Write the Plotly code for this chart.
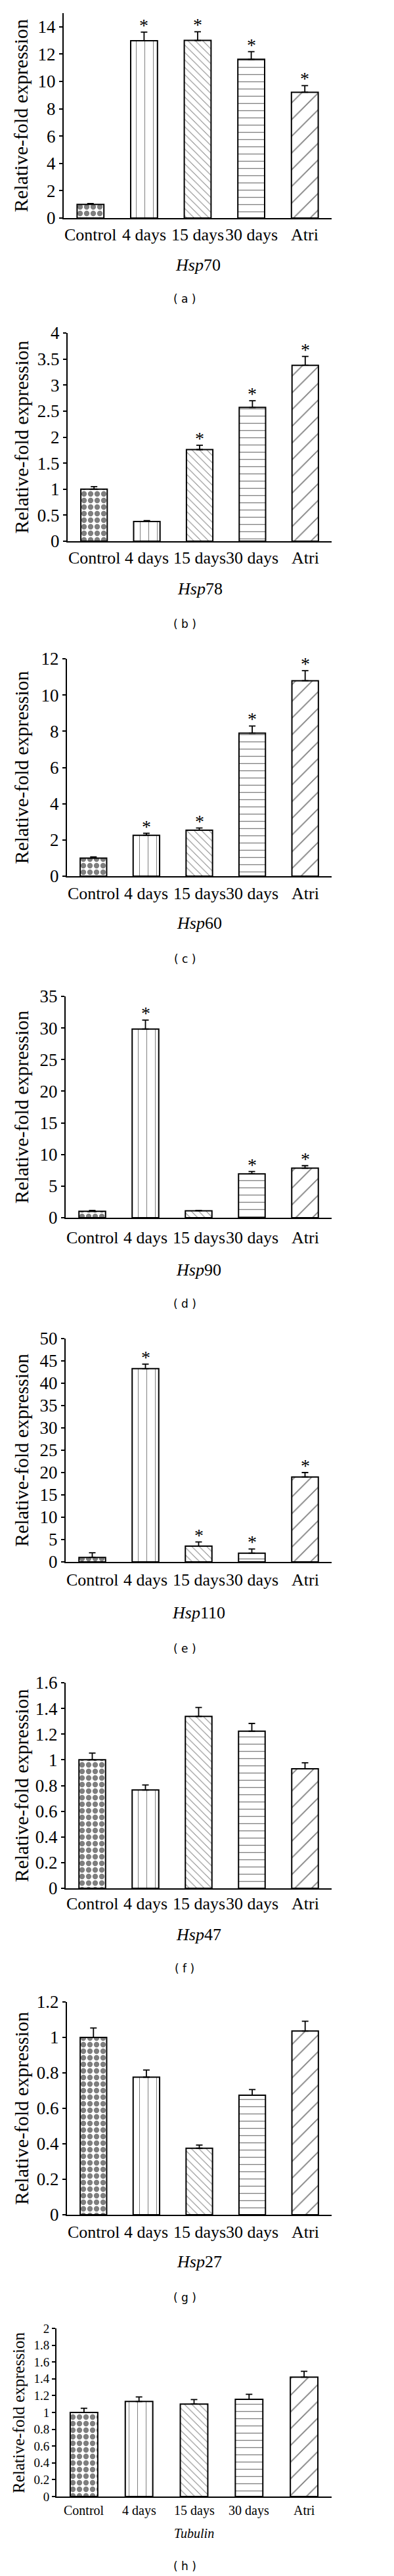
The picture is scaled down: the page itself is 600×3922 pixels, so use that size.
import plotly.graph_objects as go

# page is 600 x 3922; the html body adds an 8 px margin, so the figure is shifted by it
PAGE_PAD = 8
W, H = 600 - 2 * PAGE_PAD, 3922 - PAGE_PAD

categories = ["Control", "4 days", "15 days", "30 days", "Atri"]

genes = ["Hsp70", "Hsp78", "Hsp60", "Hsp90", "Hsp110", "Hsp47", "Hsp27", "Tubulin"]
letters = ["a", "b", "c", "d", "e", "f", "g", "h"]

hsp70 = [1.0, 12.98, 13.0, 11.62, 9.21]
hsp70_err = [0.06, 0.63, 0.64, 0.56, 0.48]
hsp70_star = [0, 1, 1, 1, 1]

hsp78 = [1.0, 0.38, 1.76, 2.57, 3.38]
hsp78_err = [0.05, 0.015, 0.085, 0.13, 0.17]
hsp78_star = [0, 0, 1, 1, 1]

hsp60 = [1.0, 2.26, 2.54, 7.89, 10.79]
hsp60_err = [0.06, 0.11, 0.12, 0.40, 0.55]
hsp60_star = [0, 1, 1, 1, 1]

hsp90 = [1.0, 29.84, 1.1, 6.94, 7.83]
hsp90_err = [0.15, 1.4, 0.05, 0.37, 0.40]
hsp90_star = [0, 1, 0, 1, 1]

hsp110 = [1.0, 43.26, 3.53, 1.96, 19.02]
hsp110_err = [1.05, 1.03, 0.93, 0.92, 0.98]
hsp110_star = [0, 1, 1, 1, 1]

hsp47 = [1.0, 0.765, 1.338, 1.223, 0.93]
hsp47_err = [0.052, 0.039, 0.07, 0.06, 0.047]
hsp47_star = [0, 0, 0, 0, 0]

hsp27 = [1.0, 0.776, 0.375, 0.674, 1.036]
hsp27_err = [0.053, 0.04, 0.018, 0.032, 0.055]
hsp27_star = [0, 0, 0, 0, 0]

tubulin = [1.0, 1.13, 1.10, 1.156, 1.42]
tubulin_err = [0.05, 0.055, 0.054, 0.06, 0.07]
tubulin_star = [0, 0, 0, 0, 0]

series = [hsp70, hsp78, hsp60, hsp90, hsp110, hsp47, hsp27, tubulin]
errors = [hsp70_err, hsp78_err, hsp60_err, hsp90_err, hsp110_err, hsp47_err, hsp27_err, tubulin_err]
stars = [hsp70_star, hsp78_star, hsp60_star, hsp90_star, hsp110_star, hsp47_star, hsp27_star, tubulin_star]

y_max = [15, 4, 12, 35, 50, 1.6, 1.2, 2]
y_step = [2, 0.5, 2, 5, 5, 0.2, 0.2, 0.2]

# page-pixel layout of each panel: y-axis x, plot top, zero line, text rows
ax_left = [97, 103, 102, 100, 100, 100, 102, 86]
ax_right = 505
plot_top = [20, 507, 1003, 1517, 2038, 2562, 3048, 3545]
plot_zero = [332, 824, 1334, 1854, 2378, 2875, 3372, 3801]
label_y = [357, 850, 1360, 1885, 2405, 2898, 3398, 3822]
gene_y = [403, 897, 1406, 1933, 2455, 2945, 3443, 3857]
letter_y = [455, 950, 1460, 1985, 2510, 2997, 3498, 3907]

# bar fill patterns, one per group
pat_shape = [".", "|", "\\", "-", "/"]
pat_size = [10, 13, 8, 11, 18]
pat_solid = [0.55, 0.08, 0.12, 0.12, 0.1]

SERIF = "Liberation Serif, Times New Roman, serif"

fig = go.Figure()
annotations = []

def px(x):
    return (x - PAGE_PAD) / W

def py(y):
    return 1 - (y - PAGE_PAD) / H

for i in range(8):
    n = "" if i == 0 else str(i + 1)
    small = i == 7
    tick_size = 19 if small else 27
    lab_size = 20 if small else 26
    title_size = 25 if small else 30

    fig.add_trace(go.Bar(
        x=categories, y=series[i],
        xaxis="x" + n, yaxis="y" + n,
        width=0.5,
        marker=dict(
            color="white",
            line=dict(color="black", width=2),
            pattern=dict(shape=pat_shape, size=pat_size, solidity=pat_solid,
                         fgcolor="black", bgcolor="white", fillmode="overlay"),
        ),
        error_y=dict(type="data", symmetric=False, array=errors[i],
                     arrayminus=[0] * 5, color="black", thickness=1.8, width=5),
        showlegend=False,
    ))

    for c, v, e, s in zip(categories, series[i], errors[i], stars[i]):
        if s:
            annotations.append(dict(
                x=c, y=v + e, xref="x" + n, yref="y" + n,
                text="*", showarrow=False, xanchor="center", yanchor="bottom", yshift=-7,
                font=dict(family=SERIF, size=28, color="#000000"),
            ))

    # category names under the axis
    for c in categories:
        annotations.append(dict(
            x=c, y=py(label_y[i]), xref="x" + n, yref="paper",
            text=c, showarrow=False, xanchor="center", yanchor="middle",
            font=dict(family=SERIF, size=lab_size, color="black"),
        ))

    fig.update_layout({
        "xaxis" + n: dict(
            domain=[px(ax_left[i]), px(ax_right)],
            anchor="y" + n, range=[-0.5, 4.5], automargin=False,
            showline=True, linecolor="black", linewidth=2,
            ticks="", showgrid=False, zeroline=False, showticklabels=False,
        ),
        "yaxis" + n: dict(
            domain=[py(plot_zero[i]), py(plot_top[i])],
            anchor="x" + n, range=[0, y_max[i]], automargin=False,
            tick0=0, dtick=y_step[i],
            showline=True, linecolor="black", linewidth=2,
            ticks="outside", ticklen=5, tickwidth=2, tickcolor="black",
            showgrid=False, zeroline=False,
            tickfont=dict(family=SERIF, size=tick_size, color="black"),
        ),
    })

    mid_y = (plot_top[i] + plot_zero[i]) / 2
    annotations.append(dict(
        x=px(28 if small else 32), y=py(mid_y), xref="paper", yref="paper",
        xanchor="center", yanchor="middle",
        text="Relative-fold expression", textangle=-90, showarrow=False,
        font=dict(family=SERIF, size=title_size, color="black"),
    ))
    gene = genes[i]
    gene_text = "<i>Tubulin</i>" if gene == "Tubulin" else "<i>Hsp</i>" + gene[3:]
    annotations.append(dict(
        x=px((ax_left[i] + ax_right) / 2), y=py(gene_y[i]), xref="paper", yref="paper",
        xanchor="center", yanchor="middle",
        text=gene_text, showarrow=False,
        font=dict(family=SERIF, size=lab_size, color="black"),
    ))
    annotations.append(dict(
        x=px(281), y=py(letter_y[i]), xref="paper", yref="paper",
        xanchor="center", yanchor="middle",
        text="( " + letters[i] + " )", showarrow=False,
        font=dict(family="DejaVu Sans, sans-serif", size=17, color="black"),
    ))

fig.update_layout(
    width=W, height=H,
    margin=dict(l=0, r=0, t=0, b=0),
    paper_bgcolor="white", plot_bgcolor="white",
    annotations=annotations,
    bargap=0.5,
)

fig.write_html("out.html")
